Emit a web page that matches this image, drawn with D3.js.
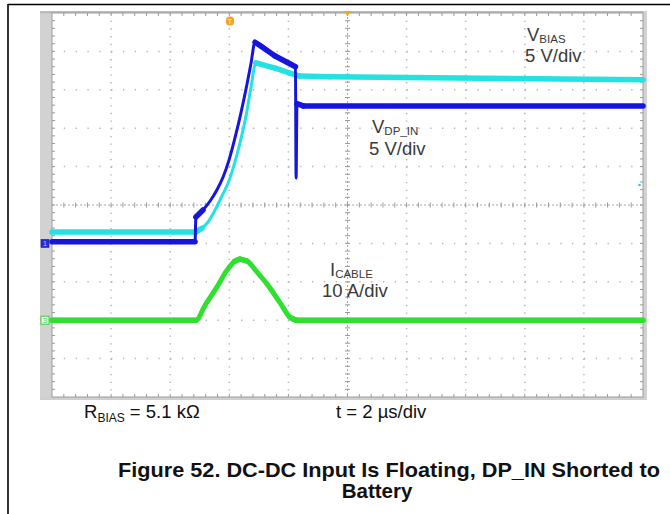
<!DOCTYPE html>
<html><head><meta charset="utf-8">
<script src="https://cdn.jsdelivr.net/npm/d3@7/dist/d3.min.js"></script>
<style>html,body{margin:0;padding:0;background:#fff;} svg{display:block;}</style>
</head><body>
<svg id="chart" width="670" height="514"></svg>
<script>
// ---- data (time in µs, voltages in V, current in A) ----
const vdpinTime  = [0, 4.84, 4.87, 5.11, 5.35, 5.58, 5.79, 5.99, 6.19, 6.40, 6.60, 6.73, 6.87, 7.55, 8.24, 8.26, 8.29, 8.50, 20];
const vdpinVolts = [0.2, 0.2, 3.44, 4.35, 5.52, 6.95, 8.64, 10.85, 13.7, 17.1, 20.75, 23.35, 26.2, 24.4, 23.0, 8.5, 18.2, 17.9, 17.9];

const vbiasTime  = [0, 4.84, 4.87, 5.08, 5.28, 5.52, 5.75, 5.96, 6.16, 6.36, 6.57, 6.73, 6.90, 7.58, 8.26, 8.39, 9.40, 20];
const vbiasVolts = [1.5, 1.5, 1.5, 2.0, 2.79, 4.35, 6.17, 7.86, 10.2, 13.07, 16.7, 20.2, 23.5, 22.8, 21.9, 21.8, 21.7, 21.3];

const icableTime = [0, 4.87, 5.18, 5.58, 5.92, 6.19, 6.36, 6.60, 6.94, 7.28, 7.72, 8.05, 8.26, 20];
const icableAmps = [0, 0, 3.9, 8.6, 13.0, 15.4, 15.9, 15.4, 12.5, 9.4, 4.5, 0.8, 0, 0];

const timeDomain = [0, 20];       // 2 µs/div, 10 div
const divDomain  = [-5, 5];       // 10 vertical divisions
const voltDomain = [-20, 30];     // 5 V/div, ground 1 div below centre
const ampDomain  = [-20, 80];     // 10 A/div, ground 3 div below centre

const labelVbias = ["V", "BIAS", "5 V/div"];
const labelVdp   = ["V", "DP_IN", "5 V/div"];
const labelIcab  = ["I", "CABLE", "10 A/div"];
const footLeft   = ["R", "BIAS", " = 5.1 kΩ"];
const footRight  = "t = 2 µs/div";
const titleLines = ["Figure 52. DC-DC Input Is Floating, DP_IN Shorted to", "Battery"];

// ---- layout ----
const svg = d3.select("#chart");
const L = 52, R = 643, T = 13, B = 397;
const x  = d3.scaleLinear().domain(timeDomain).range([L, R]);
const yD = d3.scaleLinear().domain(divDomain).range([B, T]);
const yV = d3.scaleLinear().domain(voltDomain).range([B, T]);
const yI = d3.scaleLinear().domain(ampDomain).range([B, T]);

// outer frame
svg.append("line").attr("x1", 8).attr("x2", 670).attr("y1", 4.5).attr("y2", 4.5).attr("stroke", "#000").attr("stroke-width", 1.6);
svg.append("line").attr("x1", 8).attr("x2", 8).attr("y1", 4).attr("y2", 514).attr("stroke", "#000").attr("stroke-width", 1.6);

// scope bezel
svg.append("rect").attr("x", 40).attr("y", 11).attr("width", 12).attr("height", 389).attr("fill", "#d2d2d2");
svg.append("rect").attr("x", 40).attr("y", 11).attr("width", 607).attr("height", 2.5).attr("fill", "#bcbcbc");
svg.append("rect").attr("x", 643).attr("y", 11).attr("width", 4).attr("height", 389).attr("fill", "#d2d2d2");
svg.append("rect").attr("x", 40).attr("y", 397).attr("width", 607).attr("height", 3).attr("fill", "#cfcfcf");
svg.append("rect").attr("x", L).attr("y", T).attr("width", R - L).attr("height", B - T)
  .attr("fill", "#fff").attr("stroke", "#9c9c9c").attr("stroke-width", 1);

// grid
const g = svg.append("g");
const minorX = (x(2) - x(0)) / 5, minorY = (yD(0) - yD(1)) / 5;
x.ticks(10).forEach(t => {
  if (t === 0 || t === 20 || t === 10) return;
  g.append("line").attr("x1", x(t)).attr("x2", x(t)).attr("y1", T).attr("y2", B)
    .attr("stroke", "#b5b5b5").attr("stroke-width", 1.5).attr("stroke-dasharray", `1.3 ${minorY - 1.3}`);
});
yD.ticks(10).forEach(d => {
  if (d === -5 || d === 5 || d === 0) return;
  g.append("line").attr("x1", L).attr("x2", R).attr("y1", yD(d)).attr("y2", yD(d))
    .attr("stroke", "#b5b5b5").attr("stroke-width", 1.5).attr("stroke-dasharray", `1.3 ${minorX - 1.3}`);
});
// centre axes
const cx = x(10), cy = yD(0);
g.append("line").attr("x1", L).attr("x2", R).attr("y1", cy).attr("y2", cy)
  .attr("stroke", "#a8a8a8").attr("stroke-width", 1).attr("stroke-dasharray", "2 2");
g.append("line").attr("x1", cx).attr("x2", cx).attr("y1", T).attr("y2", B)
  .attr("stroke", "#a8a8a8").attr("stroke-width", 1).attr("stroke-dasharray", "2 2");
const xMinor = d3.range(0, 50).map(i => L + i * minorX).slice(1);
const yMinor = d3.range(0, 50).map(i => T + i * minorY).slice(1);
xMinor.forEach(px => {
  g.append("line").attr("x1", px).attr("x2", px).attr("y1", cy - 2.5).attr("y2", cy + 2.5).attr("stroke", "#999").attr("stroke-width", 1);
  g.append("line").attr("x1", px).attr("x2", px).attr("y1", T).attr("y2", T + 3).attr("stroke", "#999").attr("stroke-width", 1);
  g.append("line").attr("x1", px).attr("x2", px).attr("y1", B - 3).attr("y2", B).attr("stroke", "#999").attr("stroke-width", 1);
});
yMinor.forEach(py => {
  g.append("line").attr("x1", cx - 2.5).attr("x2", cx + 2.5).attr("y1", py).attr("y2", py).attr("stroke", "#999").attr("stroke-width", 1);
  g.append("line").attr("x1", L).attr("x2", L + 3).attr("y1", py).attr("y2", py).attr("stroke", "#999").attr("stroke-width", 1);
  g.append("line").attr("x1", R - 3).attr("x2", R).attr("y1", py).attr("y2", py).attr("stroke", "#999").attr("stroke-width", 1);
});

// traces
function trace(ts, vs, ys, color, thin, thick) {
  const pts = ts.map((t, i) => [x(t), ys(vs[i])]);
  const curve = d3.line().curve(d3.curveMonotoneX);
  const line = d3.line();
  svg.append("path").attr("d", curve(pts)).attr("fill", "none").attr("stroke", color)
    .attr("stroke-width", thin).attr("stroke-linejoin", "round").attr("stroke-linecap", "round");
  for (let i = 1; i < pts.length; i++) {
    const dx = pts[i][0] - pts[i-1][0], dy = pts[i][1] - pts[i-1][1];
    if (dx > 0 && Math.abs(dy / dx) < 1) {
      svg.append("path").attr("d", line([pts[i-1], pts[i]])).attr("fill", "none").attr("stroke", color)
        .attr("stroke-width", thick).attr("stroke-linecap", "round");
    }
  }
}
trace(icableTime, icableAmps, yI, "#2fe02f", 5, 5.5);
trace(vbiasTime, vbiasVolts, yV, "#22e2e2", 3, 5.5);
trace(vdpinTime, vdpinVolts, yV, "#1515dc", 3, 5.5);

// markers
svg.append("path").attr("d", `M${cx-4},${T-2} L${cx+4},${T-2} L${cx},${T+3} Z`).attr("fill", "#f5a225");
svg.append("rect").attr("x", 226).attr("y", 16.5).attr("width", 8).attr("height", 9).attr("rx", 3.5).attr("fill", "#f5a225");
svg.append("text").attr("x", 230).attr("y", 24).attr("text-anchor", "middle").attr("font-size", 7)
  .attr("font-family", "Liberation Sans, Arial, sans-serif").attr("fill", "#fff").text("T");
svg.append("rect").attr("x", 41).attr("y", yV(0) - 4).attr("width", 8).attr("height", 8).attr("fill", "#2a2adc").attr("stroke", "#1a1ab0").attr("stroke-width", 0.6);
svg.append("text").attr("x", 45).attr("y", yV(0) + 3).attr("text-anchor", "middle").attr("font-size", 7)
  .attr("font-family", "Liberation Sans, Arial, sans-serif").attr("fill", "#c8c8ff").text("1");
svg.append("rect").attr("x", 41).attr("y", yI(0) - 4).attr("width", 8).attr("height", 8).attr("fill", "#e8ffe8").attr("stroke", "#3ad03a").attr("stroke-width", 1);
svg.append("text").attr("x", 45).attr("y", yI(0) + 3).attr("text-anchor", "middle").attr("font-size", 7)
  .attr("font-family", "Liberation Sans, Arial, sans-serif").attr("fill", "#3ad03a").text("3");
svg.append("circle").attr("cx", 639.5).attr("cy", 185).attr("r", 1.3).attr("fill", "#22d0e0");

// in-plot labels
function chanLabel(lbl, xMain, yMain, xDiv, yDiv) {
  const t = svg.append("text").attr("x", xMain).attr("y", yMain)
    .attr("font-family", "Liberation Sans, Arial, sans-serif").attr("fill", "#3a3a3a").attr("font-size", 18.5);
  t.append("tspan").text(lbl[0]);
  t.append("tspan").attr("font-size", 11.5).attr("dy", 2).text(lbl[1]);
  svg.append("text").attr("x", xDiv).attr("y", yDiv)
    .attr("font-family", "Liberation Sans, Arial, sans-serif").attr("fill", "#3a3a3a").attr("font-size", 18.5).text(lbl[2]);
}
chanLabel(labelVbias, 527, 41, 525, 62);
chanLabel(labelVdp, 372, 133, 369, 155);
chanLabel(labelIcab, 330, 276, 322, 297);

// footer
const f = svg.append("text").attr("x", 84).attr("y", 418)
  .attr("font-family", "Liberation Sans, Arial, sans-serif").attr("fill", "#111").attr("font-size", 18.5);
f.append("tspan").text(footLeft[0]);
f.append("tspan").attr("font-size", 12).attr("dy", 4).text(footLeft[1]);
f.append("tspan").attr("dy", -4).text(footLeft[2]);
svg.append("text").attr("x", 336).attr("y", 418)
  .attr("font-family", "Liberation Sans, Arial, sans-serif").attr("fill", "#111").attr("font-size", 18.5).text(footRight);

svg.append("text").attr("x", 118).attr("y", 477)
  .attr("font-family", "Liberation Sans, Arial, sans-serif").attr("font-weight", "bold").attr("fill", "#111")
  .attr("font-size", 20.5).attr("textLength", 542).attr("lengthAdjust", "spacingAndGlyphs").text(titleLines[0]);
svg.append("text").attr("x", 377).attr("y", 498).attr("text-anchor", "middle")
  .attr("font-family", "Liberation Sans, Arial, sans-serif").attr("font-weight", "bold").attr("fill", "#111")
  .attr("font-size", 20.5).text(titleLines[1]);
</script>
</body></html>
